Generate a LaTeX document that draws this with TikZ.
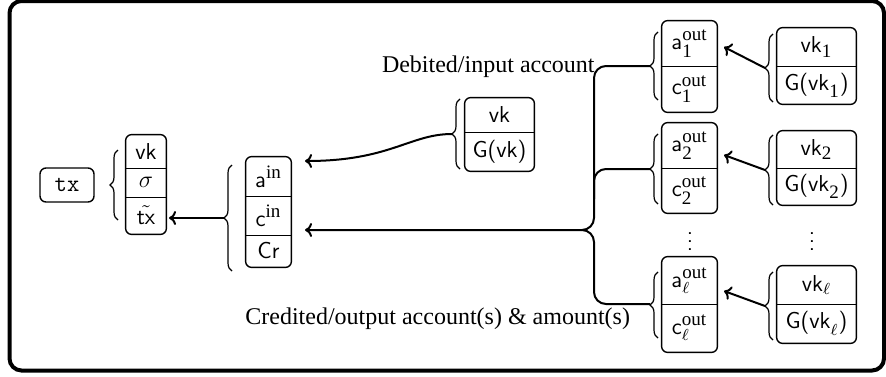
\documentclass[tikz,border=0pt]{standalone}
\usepackage{amsmath}
\usepackage{fontspec}
\setmainfont{Liberation Serif}
\usetikzlibrary{decorations.pathreplacing,fit,arrows.meta}
\newcommand\supt[1]{\text{\fontsize{9.5}{10}\selectfont\rmfamily #1}}
\begin{document}
\begin{tikzpicture}[x=0.5pt,y=-0.5pt,
  cell/.style={inner sep=0pt, font=\sffamily\fontsize{11.5}{13}\selectfont},
  colbox/.style={draw, rounded corners=3pt, line width=0.7pt, inner sep=0pt},
  divider/.style={line width=0.7pt},
  brc/.style={decorate, decoration={brace, amplitude=4pt}, line width=0.6pt},
  arr/.style={-{To[length=3.5pt,width=7pt]}, line width=1pt},
  conn/.style={line width=1pt},
  lbl/.style={inner sep=0pt, font=\fontsize{12}{14}\selectfont}]
\useasboundingbox (0,0) rectangle (886,376);
\draw[line width=2pt, rounded corners=6pt] (9.5,1) rectangle (884,370.5);

% tx box
\node[cell, draw, rounded corners=3pt, line width=0.7pt, minimum width=27pt, minimum height=17pt, font=\ttfamily\fontsize{12}{14}\selectfont] (tx) at (67,185) {tx};

% column T
\node[cell, minimum width=20pt, minimum height=16.5pt] (Tvk) at (146,151.5) {vk};
\node[cell, minimum width=20pt, minimum height=14.5pt] (Tsig) at (146,182.5) {$\sigma$};
\node[cell, minimum width=20pt, minimum height=18.5pt] (Ttx) at (146,215.5) {$\tilde{\textsf{tx}}$};
\node[colbox, fit=(Tvk)(Tsig)(Ttx)] (T) {};
\draw[divider] (Tvk.south west) -- (Tvk.south east);
\draw[divider] (Tsig.south west) -- (Tsig.south east);

% column A
\node[cell, minimum width=22.5pt, minimum height=19.5pt] (Aa) at (268.5,176.5) {$\textsf{a}^{\supt{in}}$};
\node[cell, minimum width=22.5pt, minimum height=19.5pt] (Ac) at (268.5,215.5) {$\textsf{c}^{\supt{in}}$};
\node[cell, minimum width=22.5pt, minimum height=16pt] (Acr) at (268.5,251) {Cr};
\node[colbox, fit=(Aa)(Ac)(Acr)] (A) {};
\draw[divider] (Aa.south west) -- (Aa.south east);
\draw[divider] (Ac.south west) -- (Ac.south east);

% column V
\node[cell, minimum width=34.5pt, minimum height=17pt] (Vvk) at (499.5,115) {vk};
\node[cell, minimum width=34.5pt, minimum height=19.5pt] (Vg) at (499.5,151.5) {G(vk)};
\node[colbox, fit=(Vvk)(Vg)] (V) {};
\draw[divider] (Vvk.south west) -- (Vvk.south east);

% output columns
\node[cell, minimum width=27.5pt, minimum height=22.5pt] (O1a) at (689.5,43.5) {$\textsf{a}^{\supt{out}}_{\supt{1}}$};
\node[cell, minimum width=27.5pt, minimum height=23pt] (O1c) at (689.5,89) {$\textsf{c}^{\supt{out}}_{\supt{1}}$};
\node[colbox, fit=(O1a)(O1c)] (O1) {};
\draw[divider] (O1a.south west) -- (O1a.south east);

\node[cell, minimum width=27.5pt, minimum height=22.5pt] (O2a) at (689.5,145.5) {$\textsf{a}^{\supt{out}}_{\supt{2}}$};
\node[cell, minimum width=27.5pt, minimum height=22.5pt] (O2c) at (689.5,190.5) {$\textsf{c}^{\supt{out}}_{\supt{2}}$};
\node[colbox, fit=(O2a)(O2c)] (O2) {};
\draw[divider] (O2a.south west) -- (O2a.south east);

\node[cell, minimum width=27.5pt, minimum height=23.5pt] (OLa) at (689.5,280.5) {$\textsf{a}^{\supt{out}}_{\ell}$};
\node[cell, minimum width=27.5pt, minimum height=24pt] (OLc) at (689.5,328) {$\textsf{c}^{\supt{out}}_{\ell}$};
\node[colbox, fit=(OLa)(OLc)] (OL) {};
\draw[divider] (OLa.south west) -- (OLa.south east);

% key columns
\node[cell, minimum width=39.5pt, minimum height=19pt] (K1vk) at (816.5,47) {$\textsf{vk}_{\supt{1}}$};
\node[cell, minimum width=39.5pt, minimum height=19pt] (K1g) at (816.5,85) {$\textsf{G(vk}_{\supt{1}}\textsf{)}$};
\node[colbox, fit=(K1vk)(K1g)] (K1) {};
\draw[divider] (K1vk.south west) -- (K1vk.south east);

\node[cell, minimum width=39.5pt, minimum height=18.5pt] (K2vk) at (816.5,149.5) {$\textsf{vk}_{\supt{2}}$};
\node[cell, minimum width=39.5pt, minimum height=18.5pt] (K2g) at (816.5,186.5) {$\textsf{G(vk}_{\supt{2}}\textsf{)}$};
\node[colbox, fit=(K2vk)(K2g)] (K2) {};
\draw[divider] (K2vk.south west) -- (K2vk.south east);

\node[cell, minimum width=39.5pt, minimum height=19pt] (KLvk) at (816.5,285) {$\textsf{vk}_{\ell}$};
\node[cell, minimum width=39.5pt, minimum height=19.5pt] (KLg) at (816.5,323.5) {$\textsf{G(vk}_{\ell}\textsf{)}$};
\node[colbox, fit=(KLvk)(KLg)] (KL) {};
\draw[divider] (KLvk.south west) -- (KLvk.south east);

% vertical dots
\node[cell] (dO) at (690,236) {$\vdots$};
\node[cell] (dK) at (812,236) {$\vdots$};

% braces
\draw[brc] (118,220) -- (118,150);
\draw[brc] (232,271) -- (232,165);
\draw[brc] (460,169) -- (460,99);
\draw[brc] (658,100) -- (658,32);
\draw[brc] (658,204) -- (658,134);
\draw[brc] (658,338) -- (658,272);
\draw[brc] (773,102) -- (773,34);
\draw[brc] (773,205) -- (773,135);
\draw[brc] (773,340) -- (773,272);

% brace tips and arrow ends
\coordinate (tBA) at (224,218);
\coordinate (tBV) at (452,134);
\coordinate (tBO1) at (650,66);
\coordinate (tBO2) at (650,169);
\coordinate (tBOL) at (650,304);
\coordinate (tBK1) at (765,68);
\coordinate (tBK2) at (765,170);
\coordinate (tBKL) at (765,306);
\coordinate (spine) at (594,230);
\coordinate (spinetip) at (584,230);
\coordinate (eT) at (169,218);
\coordinate (eAa) at (305,161);
\coordinate (eAc) at (305,230);
\coordinate (eO1) at (724,47);
\coordinate (eO2) at (724,155);
\coordinate (eOL) at (724,291);

% connectors
\draw[arr] (tBA) -- (eT);
\draw[arr] (tBV) .. controls (410,134) and (390,161) .. (eAa);
\draw[arr, rounded corners=6pt] (tBO1) -- (tBO1 -| spine) -- (spine) -- (eAc);
\draw[conn, rounded corners=6pt] (tBOL) -- (tBOL -| spine) -- (spine) -- (spinetip);
\draw[conn, rounded corners=6pt] ([yshift=-15pt]tBO2 -| spine) -- (tBO2 -| spine) -- (tBO2);
\draw[arr] (tBK1) -- (eO1);
\draw[arr] (tBK2) -- (eO2);
\draw[arr] (tBKL) -- (eOL);

% labels
\node[lbl, anchor=base east] (deb) at (595,72) {Debited/input account};
\node[lbl, anchor=base west] (cred) at (245,324) {Credited/output account(s) \& amount(s)};
\end{tikzpicture}
\end{document}
